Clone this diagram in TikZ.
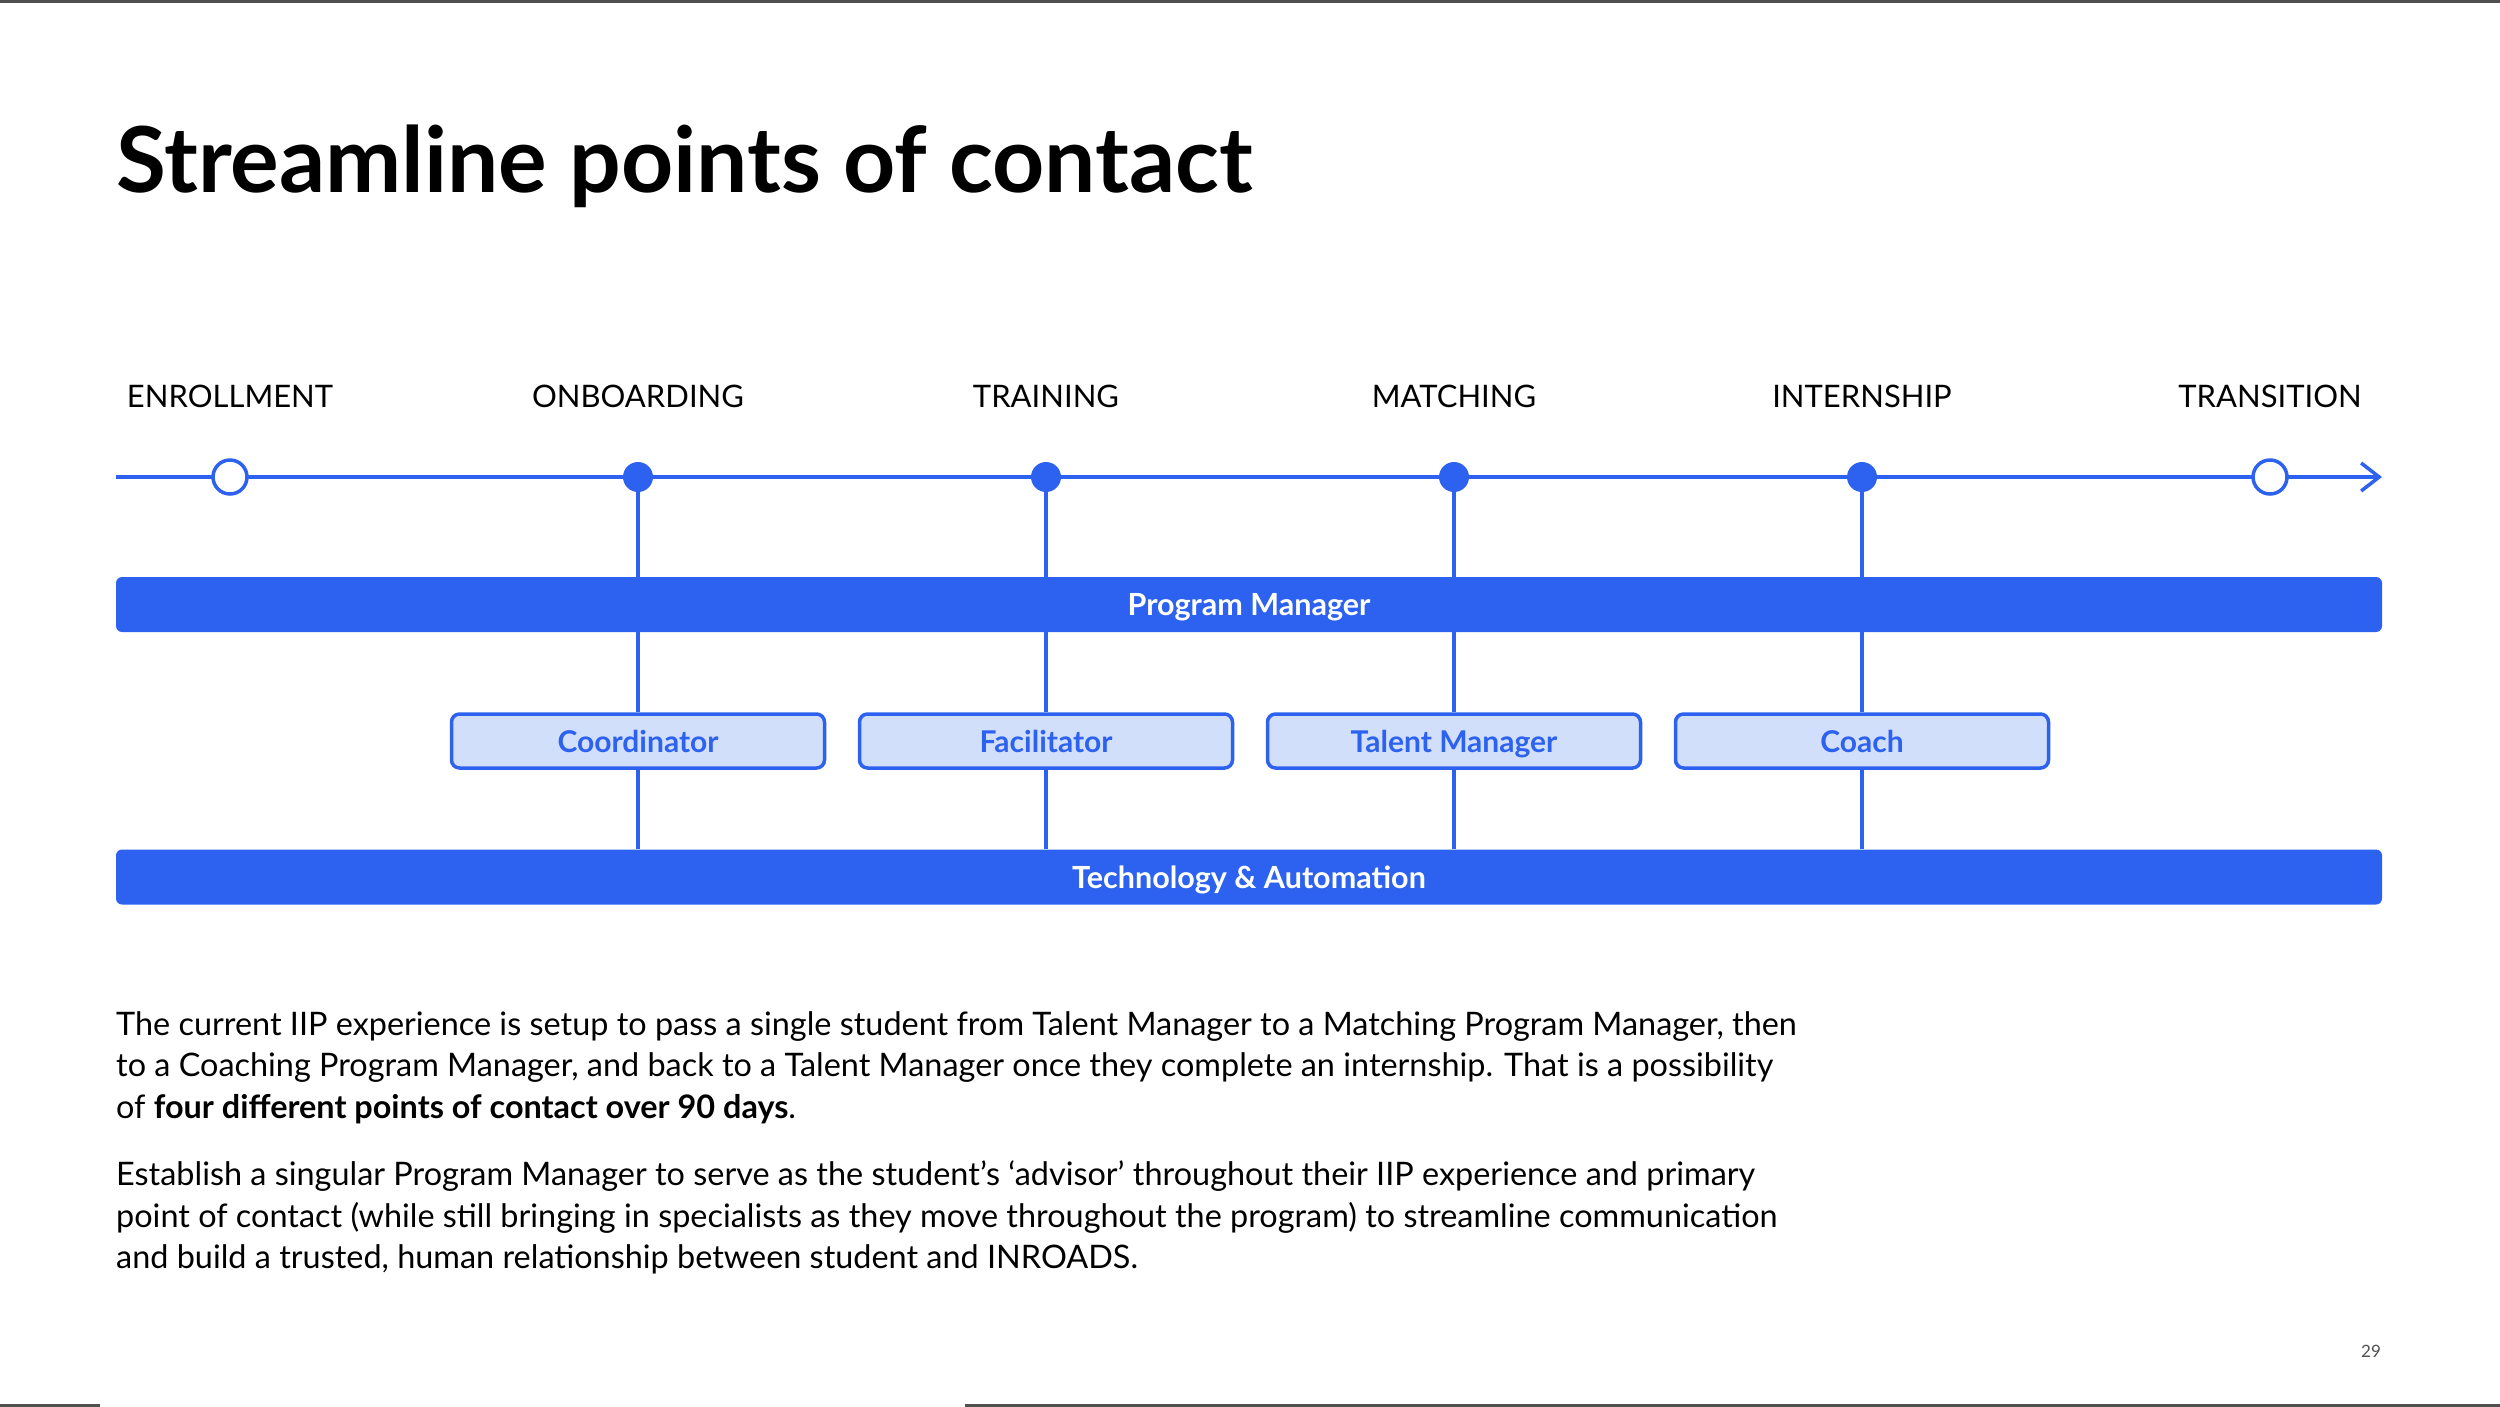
\documentclass[tikz,border=0pt]{standalone}
\usepackage{fontspec}
\setmainfont{Lato}
\usetikzlibrary{arrows.meta}
\definecolor{iblue}{RGB}{45,98,240}
\definecolor{lblue}{RGB}{210,223,250}
\definecolor{pgray}{RGB}{80,80,80}
\begin{document}
\begin{tikzpicture}[x=1pt,y=-1pt,
  stagelabel/.style={font=\fontsize{31}{36}\selectfont, text=black, anchor=base},
  opendot/.style={circle, draw=iblue, line width=3.5pt, fill=white, minimum size=34pt, inner sep=0pt},
  fulldot/.style={circle, fill=iblue, minimum size=30pt, inner sep=0pt},
  bar/.style={rectangle, rounded corners=6pt, fill=iblue, minimum width=2266pt, minimum height=55pt, inner sep=0pt,
    text=white, text height=22pt, text depth=0pt, font=\fontsize{30.5}{34}\selectfont\bfseries},
  rolebox/.style={rectangle, rounded corners=8pt, draw=iblue, line width=3.5pt, fill=lblue, minimum width=373pt,
    minimum height=54pt, inner sep=0pt, text=iblue, text height=22pt, text depth=0pt, font=\fontsize{30}{34}\selectfont\bfseries},
  link/.style={draw=iblue, line width=3.5pt},
  body/.style={anchor=north west, inner sep=0pt, align=left, font=\fontsize{32.4}{41.5}\selectfont, text=black}
]
\useasboundingbox (0,0) rectangle (2500,1406);
% frame lines
\draw[pgray, line width=3pt] (0,1) -- (2500,1);
\draw[pgray, line width=3pt] (0,1405) -- (100,1405);
\draw[pgray, line width=3pt] (965,1405) -- (2500,1405);
% title
\node[anchor=base west, inner sep=0pt, font=\fontsize{91}{100}\selectfont\bfseries] (title) at (116,192) {Streamline points of contact};
% stage labels
\node[stagelabel] (l1) at (230,407) {ENROLLMENT};
\node[stagelabel] (l2) at (638,407) {ONBOARDING};
\node[stagelabel] (l3) at (1046,407) {TRAINING};
\node[stagelabel] (l4) at (1454,407) {MATCHING};
\node[stagelabel] (l5) at (1862,407) {INTERNSHIP};
\node[stagelabel] (l6) at (2270,407) {TRANSITION};
% timeline
\coordinate (tstart) at (116,477);
\coordinate (tend) at (2382,477);
\draw[link, -{Straight Barb[length=18pt,width=28pt,line width=3.5pt]}] (tstart) -- (tend);
\node[opendot] (d1) at (230,477) {};
\node[fulldot] (d2) at (638,477) {};
\node[fulldot] (d3) at (1046,477) {};
\node[fulldot] (d4) at (1454,477) {};
\node[fulldot] (d5) at (1862,477) {};
\node[opendot] (d6) at (2270,477) {};
% bars
\node[bar] (pm) at (1249,604.5) {Program Manager};
\node[bar] (tech) at (1249,877) {Technology \& Automation};
% roles
\node[rolebox] (r1) at (638,741) {Coordinator};
\node[rolebox] (r2) at (1046,741) {Facilitator};
\node[rolebox] (r3) at (1454,741) {Talent Manager};
\node[rolebox] (r4) at (1862,741) {Coach};
% connectors
\foreach \d/\r in {d2/r1,d3/r2,d4/r3,d5/r4}{
  \draw[link] (\d.south) -- (\d |- pm.north);
  \draw[link] (\r |- pm.south) -- (\r.north);
  \draw[link] (\r.south) -- (\r |- tech.north);
}
% body text
\node[body] (p1) at (116,1011) {The current IIP experience is setup to pass a single student from Talent Manager to a Matching Program Manager, then\\
to a Coaching Program Manager, and back to a Talent Manager once they complete an internship. That is a possibility\\
of \textbf{four different points of contact over 90 days}.};
\node[body] (p2) at (116,1161) {Establish a singular Program Manager to serve as the student’s ‘advisor’ throughout their IIP experience and primary\\
point of contact (while still bringing in specialists as they move throughout the program) to streamline communication\\
and build a trusted, human relationship between student and INROADS.};
% page number
\node[anchor=base, inner sep=0pt, font=\fontsize{17}{20}\selectfont, text=pgray] (pg) at (2371,1357) {29};
\end{tikzpicture}
\end{document}
